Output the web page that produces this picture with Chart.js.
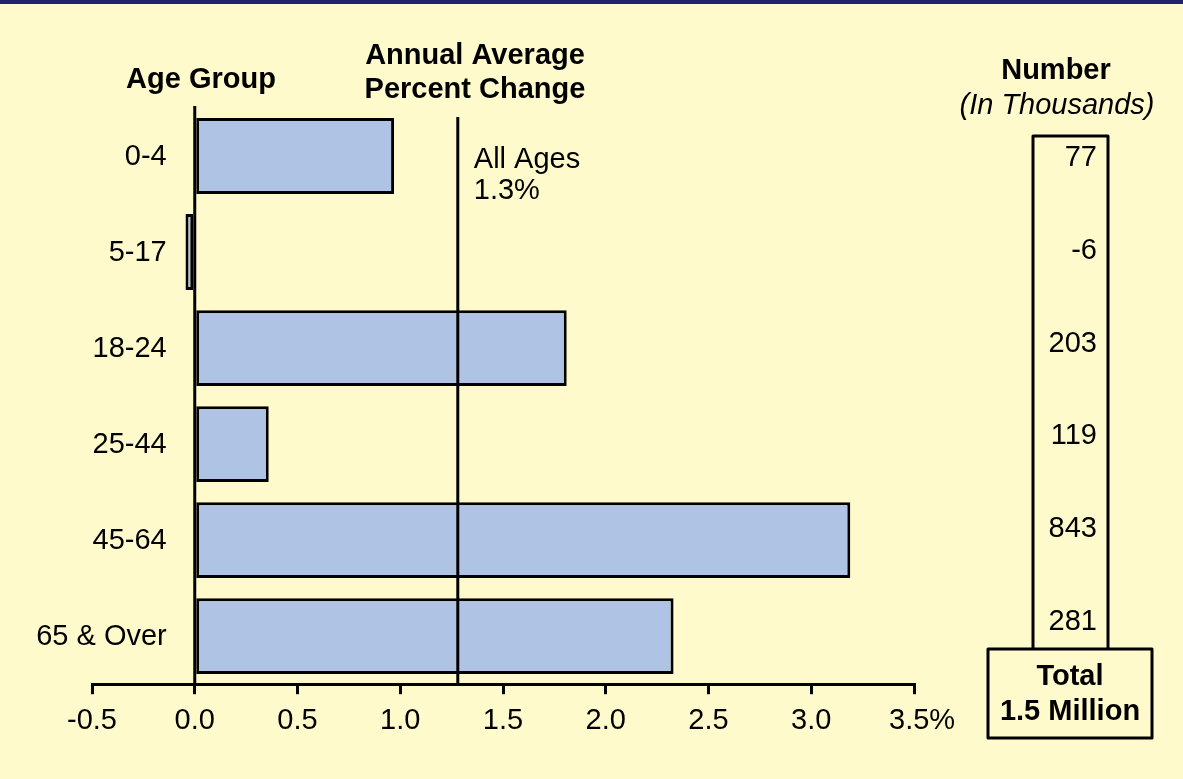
<!DOCTYPE html>
<html>
<head>
<meta charset="utf-8">
<script src="https://cdn.jsdelivr.net/npm/chart.js@4/dist/chart.umd.min.js"></script>
<style>
  html, body { margin: 0; padding: 0; background: #FFFACC; }
  #wrap { width: 1183px; height: 779px; }
</style>
</head>
<body>
<div id="wrap"><canvas id="c" width="1183" height="779"></canvas></div>
<script>
const categories = ['0-4', '5-17', '18-24', '25-44', '45-64', '65 & Over'];
const pctChange = [0.97, -0.045, 1.81, 0.36, 3.19, 2.33];
const numbersThousands = ['77', '-6', '203', '119', '843', '281'];
const allAgesPct = 1.28;
const allAgesLabel = ['All Ages', '1.3%'];
const xTickValues = [-0.5, 0.0, 0.5, 1.0, 1.5, 2.0, 2.5, 3.0, 3.5];
const totalLabel = ['Total', '1.5 Million'];

const FONT = '"Liberation Sans", Arial, Helvetica, sans-serif';

const decor = {
  id: 'decor',
  beforeDraw(chart) {
    const ctx = chart.ctx;
    ctx.save();
    ctx.fillStyle = '#FFFACC';
    ctx.fillRect(0, 0, chart.width, chart.height);
    ctx.fillStyle = '#22226B';
    ctx.fillRect(0, 0, chart.width, 4);
    ctx.restore();
  },
  afterDatasetsDraw(chart) {
    const ctx = chart.ctx;
    const xs = chart.scales.x, ys = chart.scales.y;
    const area = chart.chartArea;
    ctx.save();
    ctx.strokeStyle = '#000';
    ctx.lineWidth = 3;
    // zero line
    const x0 = xs.getPixelForValue(0);
    ctx.beginPath();
    ctx.moveTo(x0, area.top - 2);
    ctx.lineTo(x0, area.bottom);
    ctx.stroke();
    // all ages line
    const xa = xs.getPixelForValue(allAgesPct);
    ctx.beginPath();
    ctx.moveTo(xa, area.top + 9);
    ctx.lineTo(xa, area.bottom);
    ctx.stroke();

    ctx.fillStyle = '#000';
    ctx.textBaseline = 'middle';
    // category labels
    ctx.font = '29px ' + FONT;
    ctx.textAlign = 'right';
    categories.forEach((c, i) => {
      ctx.fillText(c, x0 - 28, ys.getPixelForValue(i) + 1);
    });
    // all ages label
    ctx.textAlign = 'left';
    ctx.fillText(allAgesLabel[0], xa + 16, 160);
    ctx.fillText(allAgesLabel[1], xa + 16, 191);

    // headers
    ctx.font = 'bold 29px ' + FONT;
    ctx.textAlign = 'center';
    ctx.fillText('Age Group', 201, 80);
    ctx.fillText('Annual Average', 475, 56);
    ctx.fillText('Percent Change', 475, 90);
    ctx.fillText('Number', 1056, 71);
    ctx.font = 'italic 29px ' + FONT;
    ctx.fillText('(In Thousands)', 1057, 106);

    // right column box
    const colL = 1033, colR = 1108, colT = 136, colB = 649;
    const totL = 988, totR = 1152, totB = 738;
    ctx.lineJoin = 'round';
    ctx.beginPath();
    ctx.moveTo(colL, colB);
    ctx.lineTo(colL, colT);
    ctx.lineTo(colR, colT);
    ctx.lineTo(colR, colB);
    ctx.stroke();
    ctx.beginPath();
    ctx.rect(totL, colB, totR - totL, totB - colB);
    ctx.stroke();

    // numbers
    ctx.font = '29px ' + FONT;
    ctx.textAlign = 'right';
    const nTop = area.top + 4;
    const nH = (area.bottom - 16 - nTop) / numbersThousands.length;
    numbersThousands.forEach((n, i) => {
      ctx.fillText(n, 1097, nTop + (i + 0.5) * nH);
    });
    // total
    ctx.font = 'bold 29px ' + FONT;
    ctx.textAlign = 'center';
    ctx.fillText(totalLabel[0], 1070, 677);
    ctx.fillText(totalLabel[1], 1070, 712);
    ctx.restore();
  }
};

new Chart(document.getElementById('c'), {
  type: 'bar',
  data: {
    labels: categories,
    datasets: [{
      data: pctChange,
      backgroundColor: '#AFC3E5',
      borderColor: '#000',
      borderWidth: 3,
      borderSkipped: false,
      categoryPercentage: 1.0,
      barPercentage: 0.79
    }]
  },
  options: {
    indexAxis: 'y',
    responsive: false,
    animation: false,
    events: [],
    layout: { padding: { left: 92, right: 269, top: 108, bottom: 32 } },
    plugins: { legend: { display: false }, tooltip: { enabled: false } },
    scales: {
      x: {
        type: 'linear',
        min: -0.5,
        max: 3.5,
        afterBuildTicks(scale) {
          scale.ticks = xTickValues.map(v => ({ value: v }));
        },
        border: { display: true, color: '#000', width: 3 },
        grid: { drawOnChartArea: false, drawTicks: true, tickLength: 10, color: '#000', lineWidth: 3 },
        ticks: {
          color: '#000',
          font: { family: FONT, size: 29 },
          padding: 9,
          maxRotation: 0,
          autoSkip: false,
          callback(v) {
            const s = Number(v).toFixed(1);
            return v === 3.5 ? '\u00a0\u00a0' + s + '%' : s;
          }
        }
      },
      y: {
        type: 'category',
        display: false
      }
    }
  },
  plugins: [decor]
});
</script>
</body>
</html>
